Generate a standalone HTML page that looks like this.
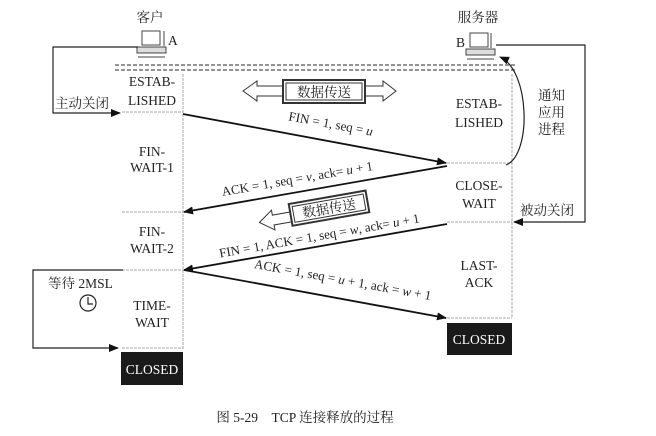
<!DOCTYPE html><html><head><meta charset="utf-8"><style>body{margin:0;background:#fff}svg{display:block}text{font-family:"Liberation Serif","Noto Serif CJK SC",serif;fill:#222}</style></head><body>
<svg width="656" height="436" viewBox="0 0 656 436">
<defs><marker id="ah" markerWidth="10" markerHeight="8" refX="9" refY="4" orient="auto" markerUnits="userSpaceOnUse"><path d="M0,0 L10,4 L0,8 Z" fill="#111"/></marker></defs>
<g font-size="13.5">
<text x="150" y="22" text-anchor="middle">客户</text>
<text x="478" y="22" text-anchor="middle">服务器</text>
<text x="168" y="45">A</text><text x="456" y="47">B</text>
</g>
<g stroke="#444" fill="#fff" stroke-width="1">
<rect x="142" y="31" width="18" height="14"/><line x1="164" y1="31" x2="164" y2="46"/><rect x="137" y="47" width="29" height="6" fill="#ddd"/><line x1="138" y1="57" x2="165" y2="57"/>
<rect x="470" y="33" width="18" height="14"/><line x1="491" y1="33" x2="491" y2="48"/><rect x="466" y="49" width="29" height="6" fill="#ddd"/><line x1="467" y1="59" x2="494" y2="59"/>
</g>
<g stroke="#555" stroke-dasharray="4,2" stroke-width="1.2"><line x1="115" y1="65" x2="515" y2="65"/><line x1="115" y1="70" x2="515" y2="70"/></g>
<g stroke="#aaa" stroke-width="1" stroke-dasharray="3,1">
<line x1="183" y1="74" x2="183" y2="350"/><line x1="512" y1="74" x2="512" y2="318"/>
<line x1="122" y1="112" x2="183" y2="112"/><line x1="122" y1="212" x2="183" y2="212"/><line x1="122" y1="270" x2="183" y2="270"/><line x1="122" y1="348" x2="183" y2="348"/>
<line x1="447" y1="163" x2="512" y2="163"/><line x1="447" y1="222" x2="512" y2="222"/><line x1="447" y1="318" x2="512" y2="318"/>
</g>
<g font-size="13.5" text-anchor="middle">
<text x="152" y="86">ESTAB-</text><text x="152" y="105">LISHED</text>
<text x="152" y="156">FIN-</text><text x="152" y="172">WAIT-1</text>
<text x="152" y="236">FIN-</text><text x="152" y="253">WAIT-2</text>
<text x="152" y="310">TIME-</text><text x="152" y="327">WAIT</text>
<text x="479" y="108">ESTAB-</text><text x="479" y="127">LISHED</text>
<text x="479" y="190">CLOSE-</text><text x="479" y="208">WAIT</text>
<text x="479" y="270">LAST-</text><text x="479" y="287">ACK</text>
</g>
<rect x="121" y="352" width="62" height="33" fill="#1a1a1a"/><text x="152" y="374" font-size="13.5" text-anchor="middle" style="fill:#fff">CLOSED</text>
<rect x="447" y="323" width="65" height="32" fill="#1a1a1a"/><text x="479" y="344" font-size="13.5" text-anchor="middle" style="fill:#fff">CLOSED</text>
<g stroke="#111" stroke-width="1.8" marker-end="url(#ah)">
<line x1="183" y1="114" x2="446" y2="163"/><line x1="447" y1="166" x2="184" y2="212"/>
<line x1="447" y1="224" x2="184" y2="270"/><line x1="184" y1="270" x2="446" y2="318"/>
</g>
<g font-size="13" text-anchor="middle">
<text transform="translate(330,128) rotate(10.5)">FIN = 1, seq = <tspan font-style="italic">u</tspan></text>
<text transform="translate(298,183) rotate(-9.8)">ACK = 1, seq = <tspan font-style="italic">v</tspan>, ack= <tspan font-style="italic">u</tspan> + 1</text>
<text transform="translate(320,240) rotate(-10)">FIN = 1, ACK = 1, seq = <tspan font-style="italic">w</tspan>, ack= <tspan font-style="italic">u</tspan> + 1</text>
<text transform="translate(342,284) rotate(10.3)">ACK = 1, seq = <tspan font-style="italic">u</tspan> + 1, ack = <tspan font-style="italic">w</tspan> + 1</text>
</g>
<g stroke="#333" fill="#fff" stroke-width="1">
<path d="M283,86 L257,86 L257,81 L243,91 L257,101 L257,96 L283,96 Z"/>
<path d="M365,86 L383,86 L383,81 L396,91 L383,101 L383,96 L365,96 Z"/>
<rect x="283" y="80" width="82" height="23" stroke-width="2"/><rect x="286" y="83" width="76" height="17"/>
</g>
<text x="324" y="97" font-size="13.5" text-anchor="middle">数据传送</text>
<g transform="translate(330,208) rotate(-10)">
<path d="M-40,-3 L-58,-3 L-58,-8 L-72,2 L-58,12 L-58,7 L-40,7 Z" stroke="#333" fill="#fff"/>
<rect x="-40" y="-11" width="78" height="22" fill="#fff" stroke="#333" stroke-width="2"/><rect x="-37" y="-8" width="72" height="16" fill="none" stroke="#333"/>
<text x="-1" y="5" font-size="13.5" text-anchor="middle">数据传送</text>
</g>
<g stroke="#222" fill="none" stroke-width="1.2">
<path d="M138,47 L53,47 L53,113 L120,113" marker-end="url(#ah)"/>
<path d="M496,45 L585,45 L585,222 L514,222" marker-end="url(#ah)"/>
<path d="M123,270 L33,270 L33,348 L118,348" marker-end="url(#ah)"/>
<path d="M506,165 C532,155 530,70 500,57" marker-end="url(#ah)"/>
<circle cx="88" cy="303" r="8"/><path d="M88,297 L88,304 L93,304"/>
</g>
<g font-size="13.5">
<text x="55" y="108">主动关闭</text>
<text x="520" y="215">被动关闭</text>
<text x="538" y="100">通知</text><text x="538" y="117">应用</text><text x="538" y="134">进程</text>
<text x="48" y="288">等待 2MSL</text>
<text x="305" y="422" text-anchor="middle">图 5-29　TCP 连接释放的过程</text>
</g>
</svg></body></html>
